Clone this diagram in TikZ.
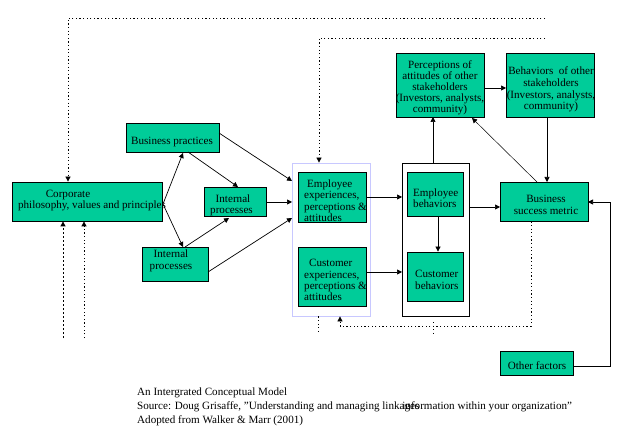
\documentclass[tikz,border=0pt]{standalone}
\usepackage{fontspec}
\setmainfont{Liberation Serif}
\usetikzlibrary{arrows.meta}
\definecolor{boxgreen}{HTML}{00CC99}
\definecolor{framecol}{HTML}{C8C8FF}
\tikzset{
  box/.style={draw=black, fill=boxgreen, line width=0.8pt, inner sep=0pt},
  txt/.style={inner sep=0pt, font=\fontsize{11.1}{12}\selectfont},
  arr/.style={line width=0.7pt, -{Triangle[length=5pt,width=5pt]}},
  ln/.style={line width=0.7pt},
  dots/.style={line width=0.8pt, dash pattern=on 1.2pt off 2.4pt},
  dashs/.style={line width=0.8pt, dash pattern=on 2pt off 2pt},
}
\begin{document}
\begin{tikzpicture}[x=1pt,y=-1pt]
\useasboundingbox (0,0) rectangle (629,446);
% frames
\node[draw=framecol, line width=0.8pt, minimum width=78pt, minimum height=153pt, inner sep=0pt] (lbframe) at (331,239.5) {};
\node[draw=black, line width=0.8pt, minimum width=67pt, minimum height=153pt, inner sep=0pt] (bframe) at (435.5,239.5) {};
% boxes
\node[box, minimum width=150pt, minimum height=39pt] (corp) at (87,201.5) {};
\node[box, minimum width=93pt, minimum height=29pt] (bp) at (172.5,137.5) {};
\node[box, minimum width=62pt, minimum height=29pt] (ipm) at (235,201.5) {};
\node[box, minimum width=66pt, minimum height=34pt] (ipl) at (175,264) {};
\node[box, minimum width=68pt, minimum height=50pt] (eexp) at (332,197) {};
\node[box, minimum width=68pt, minimum height=59pt] (cexp) at (332,276.5) {};
\node[box, minimum width=56pt, minimum height=44pt] (ebeh) at (435,194) {};
\node[box, minimum width=56pt, minimum height=49pt] (cbeh) at (435,276.5) {};
\node[box, minimum width=88pt, minimum height=64pt] (perc) at (440,85) {};
\node[box, minimum width=88pt, minimum height=64pt] (both) at (550,85) {};
\node[box, minimum width=88pt, minimum height=39pt] (bsm) at (544,201.5) {};
\node[box, minimum width=73pt, minimum height=24pt] (oth) at (536.5,363) {};
% texts
\node[txt] (tcorp1) at (68,195) {Corporate};
\node[txt] (tcorp2) at (92,206) {philosophy, values and principles};
\node[txt] (tbp) at (172,142) {Business practices};
\node[txt, align=center] (tipm) at (233,205) {Internal\\[-1pt]\hspace*{-3pt}processes};
\node[txt, align=center] (tipl) at (171,261) {Internal\\[0pt]processes};
\node[txt, align=left, anchor=west] (teexp) at (304,201) {\hspace*{3pt}Employee\\[-1pt]experiences,\\perceptions \&\\[-1pt]attitudes};
\node[txt, align=left, anchor=west] (tcexp) at (304,280) {\hspace*{5pt}Customer\\experiences,\\[-1pt]perceptions \&\\[-1pt]attitudes};
\node[txt, align=left, anchor=west] (tebeh) at (413,198) {Employee\\[-1pt]behaviors};
\node[txt, align=left, anchor=west] (tcbeh) at (415,280) {Customer\\behaviors};
\node[txt, align=center] (tperc) at (440,88) {Perceptions of\\[-1pt]attitudes of other\\[-1pt]stakeholders\\[-1pt](Investors, analysts,\\[-1pt]community)};
\node[txt, align=center] (tboth) at (551,89) {Behaviors~ of other\\stakeholders\\(Investors, analysts,\\[-1pt]community)};
\node[txt, align=center] (tbsm) at (546,205) {Business\\success metric};
\node[txt] (toth) at (537,366) {Other factors};
% caption
\node[txt, align=left, anchor=north west, font=\fontsize{11.1}{14}\selectfont] (cap) at (137,388) {An Intergrated Conceptual Model\\
Source: Doug Grisaffe, ”Understanding and managing linkages\kern-17pt information within your organization”\\
Adopted from Walker \& Marr (2001)};
% coordinates
\coordinate (cE) at (163,204);
\coordinate (bpT) at (183,153);
\coordinate (iplT) at (183,247);
\coordinate (bpB) at (188,152);
\coordinate (ipmT) at (238,187);
\coordinate (bpE) at (219,133);
\coordinate (lb1) at (292,181);
\coordinate (ipmE) at (266,202);
\coordinate (lb2) at (292,202);
\coordinate (iplT2) at (185,247);
\coordinate (ipmB) at (229,218);
\coordinate (iplE) at (208,272);
\coordinate (lb3) at (292,218);
\coordinate (eexpE) at (366,197);
\coordinate (bf1) at (402,197);
\coordinate (cexpE) at (366,272);
\coordinate (bf2) at (402,272);
\coordinate (bfT) at (433,163);
\coordinate (percB) at (433,117);
\coordinate (bfE) at (469,207);
\coordinate (bsmW) at (500,207);
\coordinate (percE) at (484,88);
\coordinate (bothW) at (506,88);
\coordinate (bothB) at (547,117);
\coordinate (bsmT) at (547,182);
\coordinate (bsmT2) at (537,182);
\coordinate (percBR) at (472,118);
\coordinate (othE) at (573,366);
\coordinate (bsmE) at (588,202);
% solid arrows
\draw[arr] (cE) -- (bpT);
\draw[arr] (cE) -- (iplT);
\draw[arr] (bpB) -- (ipmT);
\draw[arr] (bpE) -- (lb1);
\draw[arr] (ipmE) -- (lb2);
\draw[arr] (iplT2) -- (ipmB);
\draw[arr] (iplE) -- (lb3);
\draw[arr] (eexpE) -- (bf1);
\draw[arr] (cexpE) -- (bf2);
\draw[arr] (ebeh.south -| 438,0) -- (cbeh.north -| 438,0);
\draw[arr] (bfT) -- (percB);
\draw[arr] (bfE) -- (bsmW);
\draw[arr] (percE) -- (bothW);
\draw[arr] (bothB) -- (bsmT);
\draw[line width=0.5pt, -{Triangle[length=5pt,width=5pt]}] (bsmT2) -- (percBR);
\draw[arr] (othE) -- (610,366) -- (610,202) -- (bsmE);
% dotted connectors
\coordinate (d1s) at (545,18);
\coordinate (d2s) at (545,38);
\draw[dots, -{Triangle[length=5pt,width=5pt]}] (d1s) -- (68,18) -- (corp.north -| 68,0);
\draw[dots, -{Triangle[length=5pt,width=5pt]}] (d2s) -- (319,38) -- (lbframe.north -| 319,0);
\draw[dots, -{Triangle[length=5pt,width=5pt]}] (bsm.south -| 531,0) -- (531,326) -- (340,326) -- (lbframe.south -| 340,0);
\coordinate (s1) at (318,333);
\coordinate (s2a) at (433,322);
\coordinate (s2b) at (433,334);
\draw[dots] (lbframe.south -| 318,0) -- (s1);
\draw[dots] (s2a) -- (s2b);
\coordinate (u1) at (63,338);
\coordinate (u2) at (84,338);
\draw[dashs, -{Triangle[length=5pt,width=5pt]}] (u1) -- (corp.south -| 63,0);
\draw[dots, -{Triangle[length=5pt,width=5pt]}] (u2) -- (corp.south -| 84,0);
\end{tikzpicture}
\end{document}
